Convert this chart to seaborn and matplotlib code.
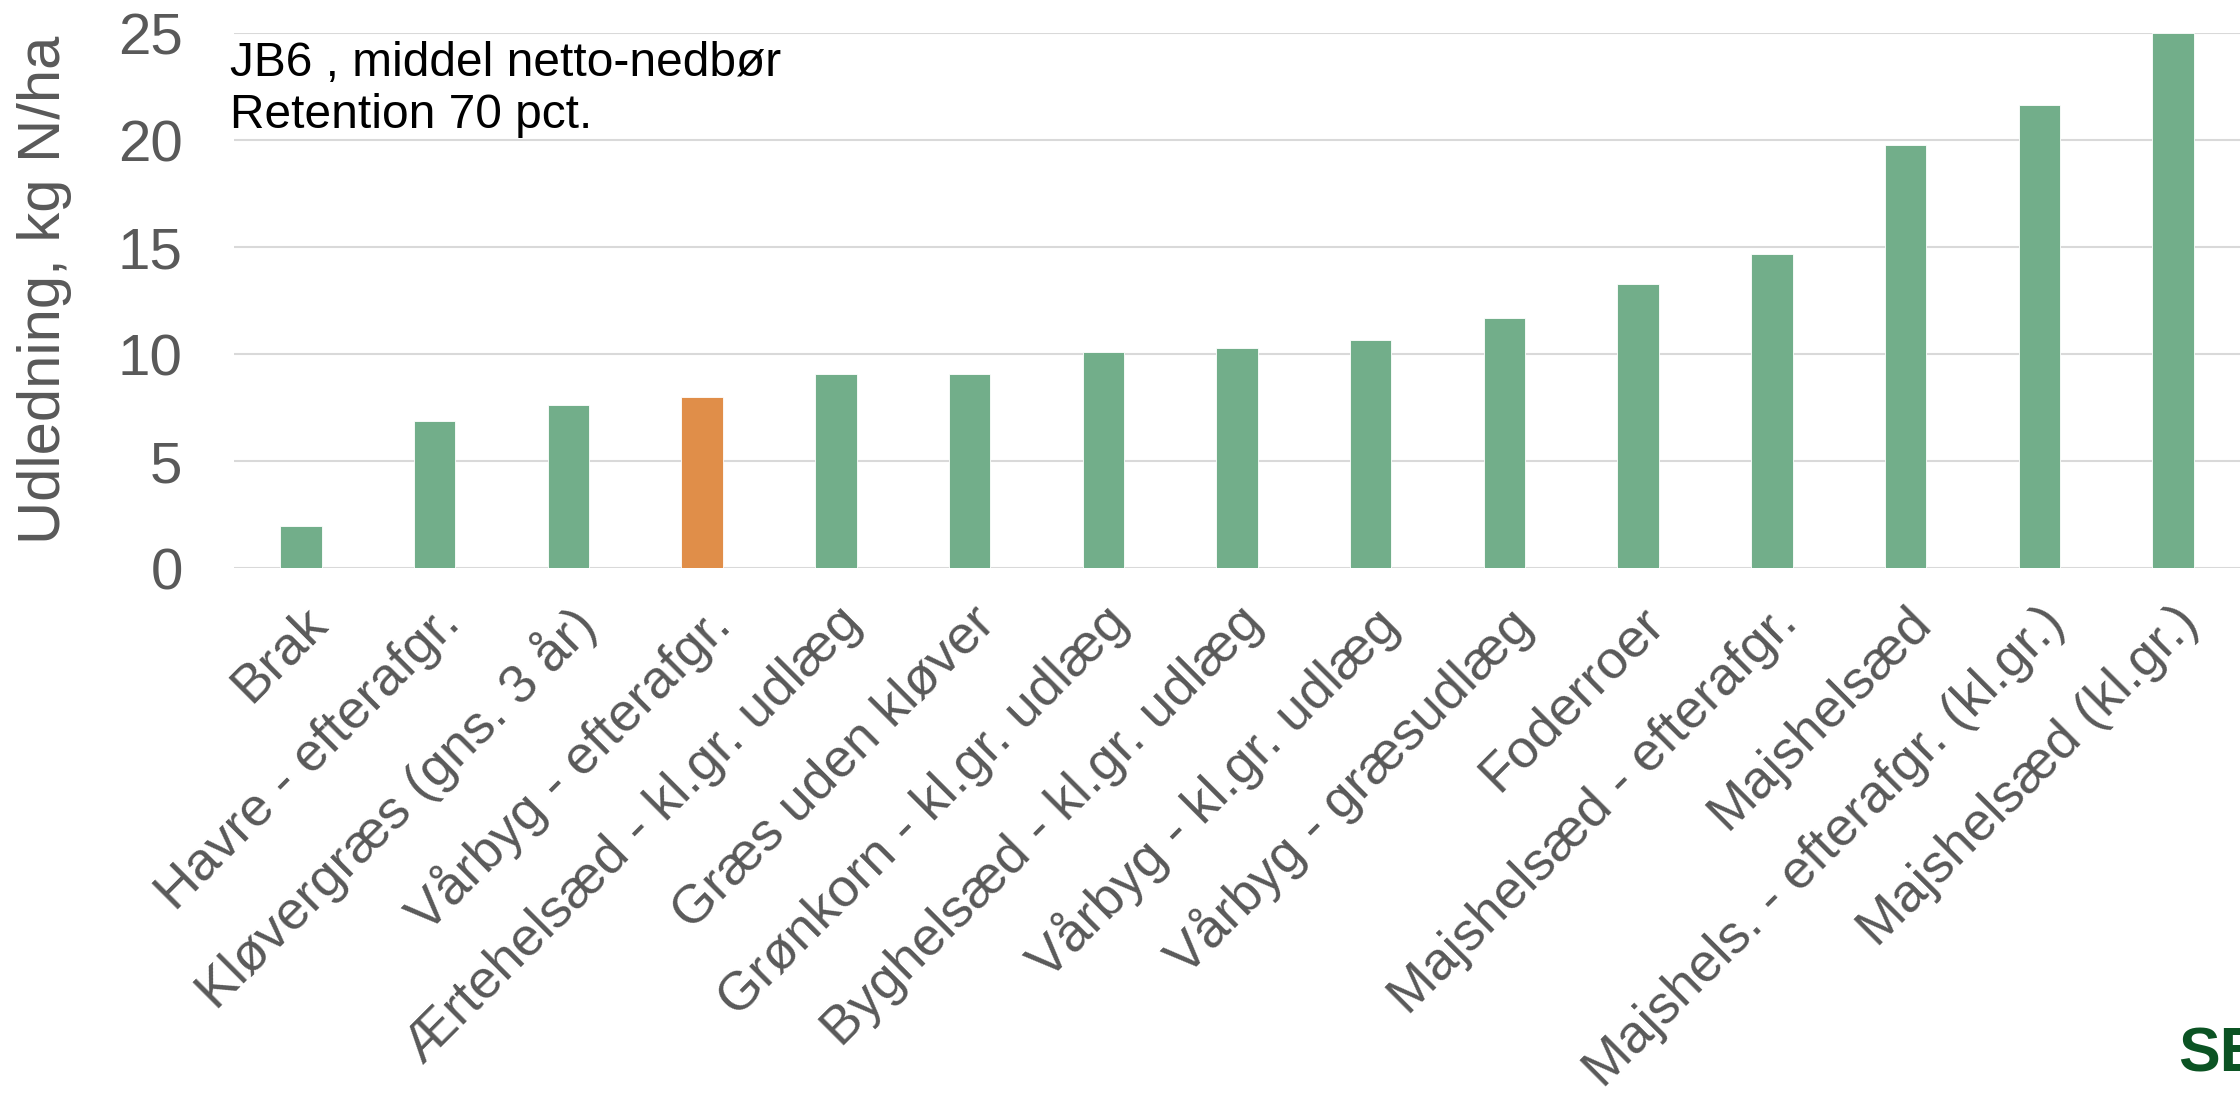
import matplotlib
matplotlib.use('Agg')
import matplotlib.pyplot as plt
import seaborn as sns
import pandas as pd

# data
categories = ['Brak', 'Havre - efterafgr.', 'Kløvergræs (gns. 3 år)',
              'Vårbyg - efterafgr.', 'Ærtehelsæd - kl.gr. udlæg',
              'Græs uden kløver', 'Grønkorn - kl.gr. udlæg',
              'Byghelsæd - kl.gr. udlæg', 'Vårbyg - kl.gr. udlæg',
              'Vårbyg - græsudlæg', 'Foderroer', 'Majshelsæd - efterafgr.',
              'Majshelsæd', 'Majshels. - efterafgr. (kl.gr.)',
              'Majshelsæd (kl.gr.)']
values = [2.0, 6.9, 7.62, 8.02, 9.09, 9.1, 10.1, 10.3, 10.65, 11.72,
          13.3, 14.7, 19.8, 21.67, 25.0]
highlight = 'Vårbyg - efterafgr.'
yticks = [0, 5, 10, 15, 20, 25]

green = '#72AE8A'
orange = '#E08E49'
grey = '#595959'

sns.set_style('white')
plt.rcParams['font.family'] = ['Liberation Sans', 'DejaVu Sans']

df = pd.DataFrame({'crop': categories, 'value': values})
palette = {c: (orange if c == highlight else green) for c in categories}

fig = plt.figure(figsize=(22.4, 10.93), dpi=100)
ax = fig.add_axes([0.1045, 0.48, 0.8955, 0.49])

sns.barplot(data=df, x='crop', y='value', hue='crop', palette=palette,
            width=0.31, legend=False, saturation=1, ax=ax,
            edgecolor='white', linewidth=0.6)

ax.set_xlim(-0.5, len(categories) - 0.5)
ax.set_ylim(0, 25.03)
ax.set_yticks(yticks)
ax.yaxis.grid(True, color='#D9D9D9', linewidth=1.5)
ax.set_axisbelow(True)
sns.despine(ax=ax, left=True, bottom=True)

ax.tick_params(axis='y', length=0, pad=37, labelsize=42, labelcolor=grey)
ax.tick_params(axis='x', length=0, pad=21, labelsize=39, labelcolor=grey)
ax.set_xticks(range(len(categories)))
ax.set_xticklabels(categories, rotation=45, ha='right', va='top',
                   rotation_mode='anchor')

ax.set_xlabel('')
ax.set_ylabel('Udledning, kg N/ha', fontsize=43, color=grey)
ax.yaxis.set_label_coords(-0.081, 0.52)

# note in the upper left corner
ax.text(-0.002, 0.985, 'JB6 , middel netto-nedbør\nRetention 70 pct.',
        transform=ax.transAxes, ha='left', va='top', fontsize=34.5,
        color='black', linespacing=1.2)

# logo, cut off at the right edge
fig.text(0.9725, 0.008, 'SE', fontsize=45, fontweight='bold',
         color='#0B5323', ha='left', va='bottom')

fig.savefig('out.png', dpi=100)
